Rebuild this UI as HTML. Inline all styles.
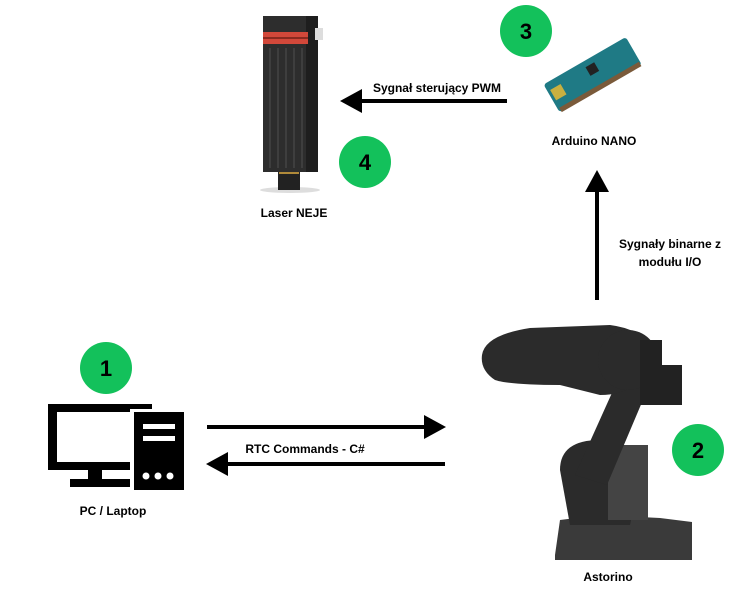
<!DOCTYPE html>
<html><head><style>body{margin:0;background:#fff}svg{display:block}text{font-family:"Liberation Sans",sans-serif;font-weight:bold}</style></head><body>
<svg width="754" height="598" viewBox="0 0 754 598">
<defs><marker id="a" markerWidth="5.5" markerHeight="6" refX="1" refY="3" orient="auto"><path d="M0,0 L5.5,3 L0,6z" fill="#000"/></marker></defs>
<!-- laser -->
<ellipse cx="290" cy="190" rx="30" ry="3" fill="#ddd"/>
<rect x="278" y="172" width="22" height="18" fill="#222"/>
<rect x="279" y="170" width="20" height="4" fill="#b08a3a"/>
<rect x="263" y="16" width="55" height="156" fill="#2d2d2d"/>
<rect x="306" y="16" width="12" height="156" fill="#1e1e1e"/>
<g stroke="#444" stroke-width="1.5"><line x1="270" y1="48" x2="270" y2="168"/><line x1="278" y1="48" x2="278" y2="168"/><line x1="286" y1="48" x2="286" y2="168"/><line x1="294" y1="48" x2="294" y2="168"/><line x1="302" y1="48" x2="302" y2="168"/></g>
<rect x="263" y="32" width="45" height="12" fill="#d2483a"/>
<rect x="263" y="37" width="45" height="2" fill="#8a2a20"/>
<rect x="315" y="28" width="8" height="12" fill="#ddd"/>
<text x="294" y="217" font-size="12" text-anchor="middle">Laser NEJE</text>
<!-- arduino -->
<g transform="rotate(-30 590 75)"><rect x="545" y="60" width="95" height="32" rx="3" fill="#1f7a85"/><rect x="547" y="88" width="92" height="5" fill="#7a5a3a"/><rect x="548" y="68" width="12" height="12" fill="#c9b040"/><rect x="590" y="66" width="10" height="10" fill="#222"/></g>
<text x="594" y="145" font-size="12" text-anchor="middle">Arduino NANO</text>
<!-- robot -->
<g fill="#2b2b2b">
<path d="M555,555 L560,520 L600,515 L660,518 L692,522 L692,560 L555,560z" fill="#3a3a3a"/>
<path d="M560,470 Q560,440 600,440 Q640,445 640,480 L630,525 L570,525z"/>
<rect x="608" y="445" width="40" height="75" fill="#444"/>
<path d="M575,475 L620,375 L648,388 L607,485z"/>
<path d="M482,355 Q485,335 530,328 L610,325 Q650,330 655,360 Q640,395 600,395 L560,385 Q510,385 495,380 Q480,370 482,355z"/>
<circle cx="628" cy="360" r="30"/>
<rect x="640" y="365" width="42" height="40" fill="#222"/>
<rect x="640" y="340" width="22" height="25" fill="#222"/>
</g>
<text x="608" y="581" font-size="12" text-anchor="middle">Astorino</text>
<!-- pc -->
<rect x="48" y="404" width="104" height="66" fill="#000"/>
<rect x="57" y="412" width="86" height="50" fill="#fff"/>
<rect x="88" y="470" width="14" height="10" fill="#000"/>
<rect x="70" y="479" width="60" height="8" fill="#000"/>
<rect x="130" y="409" width="55" height="82" fill="#fff"/>
<rect x="134" y="412" width="50" height="78" fill="#000"/>
<rect x="143" y="424" width="32" height="5" fill="#fff"/><rect x="143" y="436" width="32" height="5" fill="#fff"/>
<circle cx="146" cy="476" r="3.5" fill="#fff"/><circle cx="158" cy="476" r="3.5" fill="#fff"/><circle cx="170" cy="476" r="3.5" fill="#fff"/>
<text x="113" y="515" font-size="12" text-anchor="middle">PC / Laptop</text>
<!-- arrows -->
<g stroke="#000" stroke-width="4" marker-end="url(#a)">
<line x1="507" y1="101" x2="358" y2="101"/>
<line x1="597" y1="300" x2="597" y2="188"/>
<line x1="207" y1="427" x2="428" y2="427"/>
<line x1="445" y1="464" x2="224" y2="464"/>
</g>
<text x="437" y="92" font-size="12" text-anchor="middle">Sygnał sterujący PWM</text>
<text x="670" y="248" font-size="12" text-anchor="middle">Sygnały binarne z</text>
<text x="670" y="266" font-size="12" text-anchor="middle">modułu I/O</text>
<text x="305" y="453" font-size="12" text-anchor="middle">RTC Commands - C#</text>
<!-- badges -->
<g fill="#13c15b"><circle cx="526" cy="31" r="26"/><circle cx="365" cy="162" r="26"/><circle cx="106" cy="368" r="26"/><circle cx="698" cy="450" r="26"/></g>
<g font-size="22" text-anchor="middle"><text x="526" y="39">3</text><text x="365" y="170">4</text><text x="106" y="376">1</text><text x="698" y="458">2</text></g>
</svg>
</body></html>
